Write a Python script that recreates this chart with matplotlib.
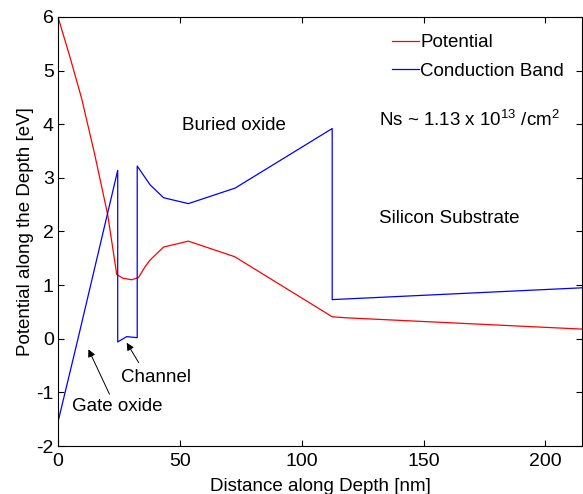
import matplotlib
matplotlib.use("Agg")
import matplotlib.pyplot as plt

plt.rcParams['font.family'] = ['Liberation Sans', 'DejaVu Sans']
plt.rcParams['mathtext.default'] = 'regular'
plt.rcParams['axes.unicode_minus'] = False

pot_x = [0, 4.8, 9.7, 15.0, 20.4, 24.1, 26.5, 30.2, 33.0, 35.7, 37.8, 43.3, 53.5, 72.5, 112.5, 118.5, 215]
pot_y = [6.0, 5.27, 4.48, 3.45, 2.31, 1.20, 1.13, 1.10, 1.14, 1.34, 1.47, 1.71, 1.82, 1.53, 0.41, 0.39, 0.18]

cb_x = [0, 8.2, 24.5, 24.5, 28.2, 32.5, 32.5, 37.8, 43.3, 53.5, 72.7, 112.5, 112.5, 215]
cb_y = [-1.55, 0.0, 3.14, -0.06, 0.04, 0.02, 3.22, 2.87, 2.63, 2.52, 2.81, 3.92, 0.73, 0.95]

fs = 13.5

fig = plt.figure(figsize=(5.83, 4.94), dpi=100)
ax = fig.add_axes([58/583, 48/494, 524/583, 429/494])

ax.plot(pot_x, pot_y, color='red', lw=0.9, label='Potential')
ax.plot(cb_x, cb_y, color='blue', lw=0.9, label='Conduction Band')

ax.set_xlim(0, 215)
ax.set_ylim(-2, 6)
ax.set_xticks([0, 50, 100, 150, 200])
ax.set_yticks(range(-2, 7))
ax.tick_params(direction='in', top=True, right=True, labelsize=14, length=4, width=0.8)
ax.tick_params(axis='x', pad=5)
ax.tick_params(axis='y', pad=3)
for s in ax.spines.values():
    s.set_linewidth(0.8)

ax.set_xlabel('Distance along Depth [nm]', fontsize=fs, labelpad=6)
ax.set_ylabel('Potential along the Depth [eV]', fontsize=fs, labelpad=2)

ax.legend(loc='upper left', bbox_to_anchor=(0.638, 0.96), frameon=False, fontsize=fs,
          handlelength=1.4, handletextpad=0.1, labelspacing=0.6, borderpad=0, borderaxespad=0)

ax.text(50.8, 3.97, 'Buried oxide', fontsize=fs, va='center')
ax.text(131.8, 4.08, r'Ns ~ 1.13 x 10$^{13}$ /cm$^{2}$', fontsize=fs, va='center')
ax.text(131.8, 2.25, 'Silicon Substrate', fontsize=fs, va='center')
ax.text(25.7, -0.73, 'Channel', fontsize=fs, va='center')
ax.text(5.6, -1.27, 'Gate oxide', fontsize=fs, va='center')

ax.annotate('', xy=(27.6, -0.03), xytext=(33.7, -0.49),
            arrowprops=dict(arrowstyle='-|>', color='black', lw=0.7, mutation_scale=11))
ax.annotate('', xy=(12.0, -0.15), xytext=(21.6, -1.08),
            arrowprops=dict(arrowstyle='-|>', color='black', lw=0.7, mutation_scale=11))

fig.savefig('out.png', dpi=100)
